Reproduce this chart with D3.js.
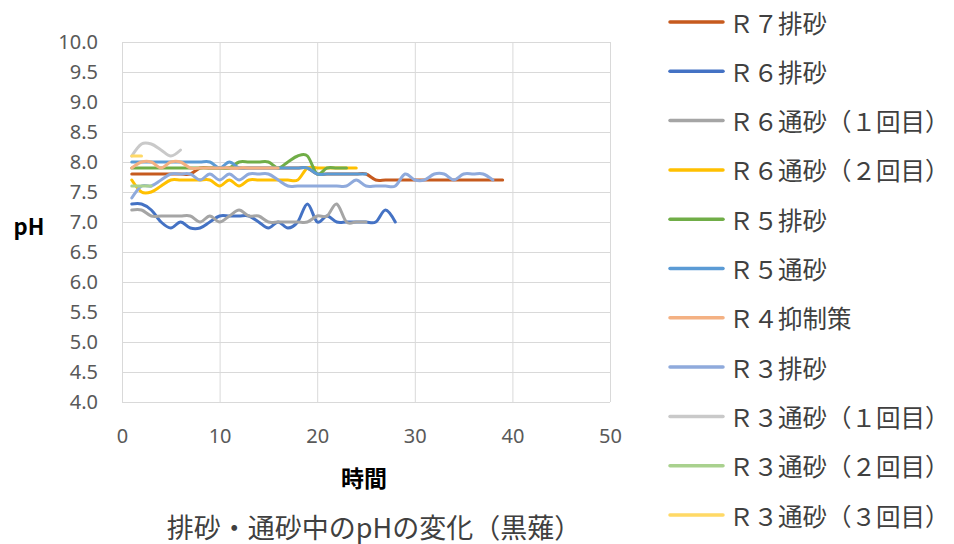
<!DOCTYPE html>
<html><head><meta charset="utf-8">
<script src="https://cdn.jsdelivr.net/npm/d3@7"></script>
<style>
html,body{margin:0;padding:0;background:#fff;}
svg{display:block;font-family:"Noto Sans CJK JP","Noto Sans",sans-serif;}
</style></head>
<body>
<svg id="chart" width="954" height="544"></svg>
<script>
// ---- data ----
const seriesNames = ["Ｒ７排砂","Ｒ６排砂","Ｒ６通砂（１回目）","Ｒ６通砂（２回目）","Ｒ５排砂","Ｒ５通砂","Ｒ４抑制策","Ｒ３排砂","Ｒ３通砂（１回目）","Ｒ３通砂（２回目）","Ｒ３通砂（３回目）"];
const seriesColors = ["#C65A1E","#4472C4","#A5A5A5","#FFC000","#70AD47","#5B9BD5","#F4B183","#8FAADC","#C9C9C9","#A9D18E","#FFD966"];
const r7Haisa   = [7.8,7.8,7.8,7.8,7.8,7.8,7.8,7.9,7.9,7.9,7.9,7.9,7.9,7.9,7.9,7.9,7.9,7.9,7.9,7.8,7.8,7.8,7.8,7.8,7.8,7.7,7.7,7.7,7.7,7.7,7.7,7.7,7.7,7.7,7.7,7.7,7.7,7.7,7.7];
const r6Haisa   = [7.3,7.3,7.2,7.0,6.9,7.0,6.9,6.9,7.0,7.1,7.1,7.1,7.1,7.0,6.9,7.0,6.9,7.0,7.3,7.0,7.1,7.0,7.0,7.0,7.0,7.0,7.2,7.0];
const r6Tsusa1  = [7.2,7.2,7.1,7.1,7.1,7.1,7.1,7.0,7.1,7.0,7.1,7.2,7.1,7.1,7.0,7.0,7.0,7.0,7.0,7.1,7.1,7.3,7.0,7.0,7.0];
const r6Tsusa2  = [7.7,7.5,7.5,7.6,7.7,7.7,7.7,7.7,7.7,7.6,7.7,7.6,7.7,7.7,7.7,7.7,7.7,7.7,7.9,7.9,7.9,7.9,7.9,7.9];
const r5Haisa   = [7.9,7.9,7.9,7.9,7.9,7.9,7.9,7.9,7.9,7.9,7.9,8.0,8.0,8.0,8.0,7.9,8.0,8.1,8.1,7.8,7.9,7.9,7.9];
const r5Tsusa   = [8.0,8.0,8.0,8.0,8.0,8.0,8.0,8.0,8.0,7.9,8.0,7.9,7.9,7.9,7.9,7.9,7.9,7.9,7.9,7.8,7.8,7.8,7.8,7.8,7.8];
const r4Yokusei = [7.9,8.0,8.0,7.9,8.0,8.0,7.9,7.9,7.9,7.9,7.9,7.9,7.9,7.9,7.9,7.9];
const r3Haisa   = [7.4,7.6,7.6,7.7,7.8,7.8,7.8,7.7,7.8,7.7,7.8,7.7,7.8,7.8,7.8,7.7,7.6,7.6,7.6,7.6,7.6,7.6,7.6,7.7,7.6,7.6,7.6,7.6,7.8,7.7,7.7,7.8,7.8,7.7,7.8,7.8,7.8,7.7];
const r3Tsusa1  = [8.1,8.3,8.3,8.2,8.1,8.2];
const r3Tsusa2  = [7.6,7.6,7.6];
const r3Tsusa3  = [8.1,8.1];
const yTicks = [4.0,4.5,5.0,5.5,6.0,6.5,7.0,7.5,8.0,8.5,9.0,9.5,10.0];
const xTicks = [0,10,20,30,40,50];
const chartTitle = "排砂・通砂中のpHの変化（黒薙）";
const xTitle = "時間";
const yTitle = "pH";

const allSeries = [r7Haisa,r6Haisa,r6Tsusa1,r6Tsusa2,r5Haisa,r5Tsusa,r4Yokusei,r3Haisa,r3Tsusa1,r3Tsusa2,r3Tsusa3];

// ---- layout ----
const svg = d3.select("#chart");
const L = 122, R = 610, T = 42, B = 402;
const x = d3.scaleLinear().domain([0,50]).range([L,R]);
const y = d3.scaleLinear().domain([4,10]).range([B,T]);

const tickFont = "'Noto Sans','Noto Sans CJK JP',sans-serif";
const gy = svg.append("g").attr("transform",`translate(${L},0)`)
  .call(d3.axisLeft(y).tickValues(yTicks).tickFormat(d3.format(".1f")).tickSize(-(R-L)).tickPadding(24));
gy.select(".domain").remove();
gy.selectAll(".tick line").attr("stroke","#D9D9D9").attr("stroke-width",1);
gy.selectAll(".tick text").attr("fill","#595959").style("font-size","20px").style("font-family",tickFont);

const gx = svg.append("g").attr("transform",`translate(0,${B})`)
  .call(d3.axisBottom(x).tickValues(xTicks).tickFormat(d3.format("d")).tickSize(-(B-T)).tickPadding(27));
gx.select(".domain").remove();
gx.selectAll(".tick line").attr("stroke","#D9D9D9").attr("stroke-width",1);
gx.selectAll(".tick text").attr("fill","#595959").style("font-size","20px").style("font-family",tickFont);

// lines
const line = d3.line().x((d,i)=>x(i+1)).y(d=>y(d)).curve(d3.curveCardinal.tension(0));
svg.append("g").selectAll("path").data(allSeries).join("path")
  .attr("d", d=>line(d))
  .attr("fill","none")
  .attr("stroke",(d,i)=>seriesColors[i])
  .attr("stroke-width",3)
  .attr("stroke-linecap","round")
  .attr("stroke-linejoin","round");

// axis titles
svg.append("text").attr("x",29).attr("y",225).attr("text-anchor","middle").attr("dominant-baseline","central")
  .style("font-size","22px").style("font-weight","bold").attr("fill","#000").text(yTitle);
svg.append("text").attr("x",364).attr("y",477).attr("text-anchor","middle").attr("dominant-baseline","central")
  .style("font-size","23px").style("font-weight","bold").attr("fill","#000").text(xTitle);
svg.append("text").attr("x",374).attr("y",526).attr("text-anchor","middle").attr("dominant-baseline","central")
  .style("font-size","27px").attr("fill","#404040").text(chartTitle);

// legend
const lg = svg.append("g").selectAll("g").data(seriesNames).join("g")
  .attr("transform",(d,i)=>`translate(0,${22 + i*49.3})`);
lg.append("line").attr("x1",670).attr("x2",723).attr("y1",0).attr("y2",0)
  .attr("stroke",(d,i)=>seriesColors[i]).attr("stroke-width",3.5).attr("stroke-linecap","round");
lg.append("text").attr("x",729).attr("y",0).attr("dominant-baseline","central")
  .style("font-size","24.5px").attr("fill","#404040").text(d=>d);
</script>
</body></html>
